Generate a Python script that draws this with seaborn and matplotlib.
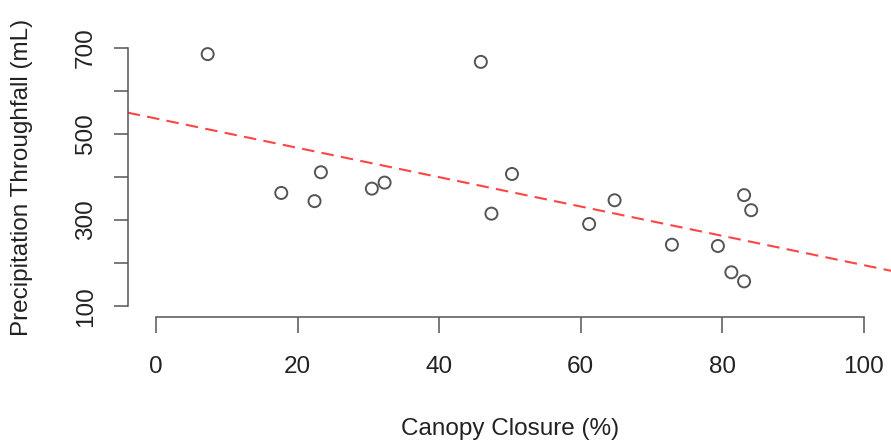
import numpy as np
import pandas as pd
import matplotlib
matplotlib.use("Agg")
import matplotlib.pyplot as plt
import seaborn as sns

# Data
canopy_closure = [7.3, 17.7, 22.4, 23.3, 30.5, 32.3, 45.9, 50.3, 47.4, 61.2,
                  64.8, 72.9, 79.4, 83.1, 84.1, 81.3, 83.1]
throughfall = [685, 363, 344, 411, 373, 387, 667, 407, 315, 291,
               346, 243, 240, 358, 323, 179, 158]
x_ticks = [0, 20, 40, 60, 80, 100]
y_ticks = [100, 200, 300, 400, 500, 600, 700]
y_tick_labels = ["100", "", "300", "", "500", "", "700"]

df = pd.DataFrame({"canopy": canopy_closure, "throughfall": throughfall})

sns.set_style("white")
plt.rcParams["font.family"] = ["Liberation Sans", "DejaVu Sans"]

W, H = 891, 444
fig = plt.figure(figsize=(W / 100, H / 100), dpi=100)
left, right, top, bottom = 127.7, 892.0, 37.3, 316.7
ax = fig.add_axes([left / W, (H - bottom) / H, (right - left) / W, (bottom - top) / H])
ax.set_xlim(-4, 104)
ax.set_ylim(76, 724)

text_color = "#222222"
line_color = "#555555"

sns.regplot(data=df, x="canopy", y="throughfall", ax=ax, ci=None, truncate=False,
            scatter_kws=dict(s=75, facecolors="none", edgecolors="#2a2a2a", linewidths=1.4),
            line_kws=dict(color="#ff4545", lw=1.5, dashes=(6, 3.5)))
ax.set_xlim(-4, 104)
ax.set_ylim(76, 724)

for s in ["top", "right"]:
    ax.spines[s].set_visible(False)
for s in ["bottom", "left"]:
    ax.spines[s].set_visible(True)
    ax.spines[s].set_color(line_color)
    ax.spines[s].set_linewidth(1.1)
ax.spines["bottom"].set_bounds(0, 100)
ax.spines["left"].set_bounds(100, 700)

ax.set_xticks(x_ticks)
ax.set_xticklabels([str(v) for v in x_ticks])
ax.set_yticks(y_ticks)
ax.set_yticklabels(y_tick_labels, rotation=90, va="center")
ax.tick_params(axis="x", bottom=True, direction="out", length=11.5, width=1.1, color=line_color,
               pad=17, labelsize=17.5, labelcolor=text_color)
ax.tick_params(axis="y", left=True, direction="out", length=10.2, width=1.1, color=line_color,
               pad=12, labelsize=17.5, labelcolor=text_color)
ax.grid(False)

ax.set_xlabel("Canopy Closure (%)", fontsize=17.5, color=text_color, va="center")
ax.set_ylabel("Precipitation Throughfall (mL)", fontsize=17.5, color=text_color, va="center")
ax.xaxis.set_label_coords(0.5, (H - 429 - (H - bottom)) / (bottom - top))
ax.yaxis.set_label_coords((22 - left) / (right - left), 0.5)

fig.savefig("out.png", dpi=100)
